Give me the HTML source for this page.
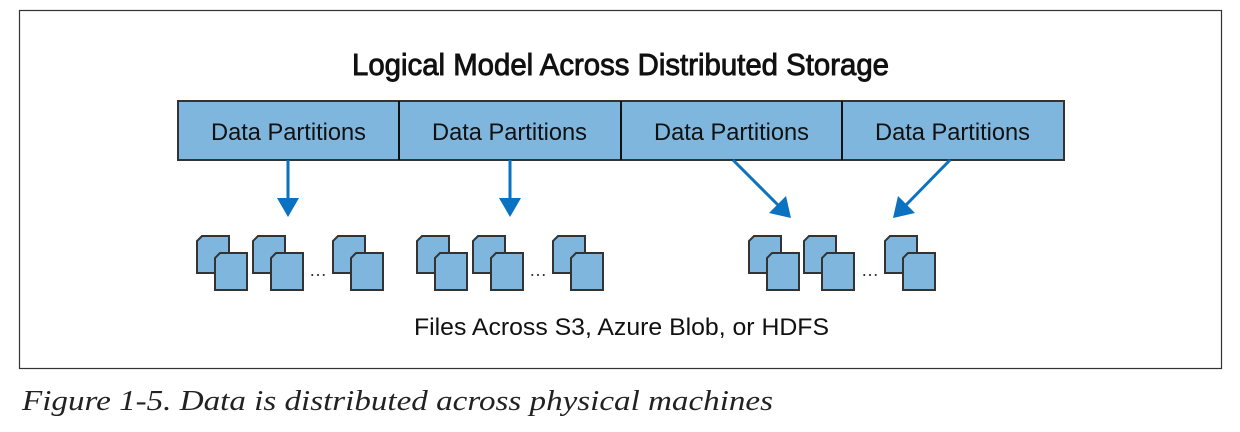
<!DOCTYPE html>
<html><head><style>html,body{margin:0;padding:0;background:#fff}svg{display:block}</style></head>
<body>
<svg width="1240" height="432" viewBox="0 0 1240 432" xmlns="http://www.w3.org/2000/svg">
<defs>
<g id="doc">
<path d="M5,0 H32 V37 H0 V5 Z" fill="#7fb6dd" stroke="#333" stroke-width="2"/>
<path d="M23,17 H50 V54 H18 V22 Z" fill="#7fb6dd" stroke="#333" stroke-width="2"/>
</g>
</defs>
<rect x="19.5" y="10.5" width="1202" height="358" fill="#fff" stroke="#333" stroke-width="1.2"/>
<text x="352" y="75" font-family="Liberation Sans, sans-serif" font-size="31" textLength="537" lengthAdjust="spacingAndGlyphs" fill="#111" stroke="#111" stroke-width="0.9">Logical Model Across Distributed Storage</text>
<rect x="178" y="101" width="886" height="59" fill="#7fb6dd" stroke="#333" stroke-width="2"/>
<line x1="399" y1="101" x2="399" y2="160" stroke="#111" stroke-width="2"/>
<line x1="621" y1="101" x2="621" y2="160" stroke="#111" stroke-width="2"/>
<line x1="842" y1="101" x2="842" y2="160" stroke="#111" stroke-width="2"/>
<g font-family="Liberation Sans, sans-serif" font-size="24" fill="#111">
<text x="211" y="140" textLength="155" lengthAdjust="spacingAndGlyphs">Data Partitions</text>
<text x="432" y="140" textLength="155" lengthAdjust="spacingAndGlyphs">Data Partitions</text>
<text x="654" y="140" textLength="155" lengthAdjust="spacingAndGlyphs">Data Partitions</text>
<text x="875" y="140" textLength="155" lengthAdjust="spacingAndGlyphs">Data Partitions</text>
</g>
<g stroke="#0a72c0" stroke-width="3" fill="#0a72c0">
<line x1="288" y1="160" x2="288" y2="200"/><path d="M277,198 L299,198 L288,217 Z" stroke="none"/>
<line x1="510" y1="160" x2="510" y2="200"/><path d="M499,198 L521,198 L510,217 Z" stroke="none"/>
<line x1="733" y1="160" x2="778" y2="205"/><path d="M769,213 L786,196 L791,218 Z" stroke="none"/>
<line x1="950" y1="160" x2="906" y2="205"/><path d="M898,196 L915,213 L893,218 Z" stroke="none"/>
</g>
<use href="#doc" x="197" y="236"/><use href="#doc" x="253" y="236"/><use href="#doc" x="333" y="236"/>
<use href="#doc" x="417" y="236"/><use href="#doc" x="473" y="236"/><use href="#doc" x="553" y="236"/>
<use href="#doc" x="749" y="236"/><use href="#doc" x="804" y="236"/><use href="#doc" x="885" y="236"/>
<g font-family="Liberation Sans, sans-serif" font-size="18" fill="#333">
<text x="309" y="276">…</text><text x="529" y="276">…</text><text x="861" y="276">…</text>
</g>
<text x="414" y="335" font-family="Liberation Sans, sans-serif" font-size="24" textLength="415" lengthAdjust="spacingAndGlyphs" fill="#111">Files Across S3, Azure Blob, or HDFS</text>
<text x="22" y="410" font-family="Liberation Serif, serif" font-style="italic" font-size="28" textLength="751" lengthAdjust="spacingAndGlyphs" fill="#222">Figure 1-5. Data is distributed across physical machines</text>
</svg>
</body></html>
